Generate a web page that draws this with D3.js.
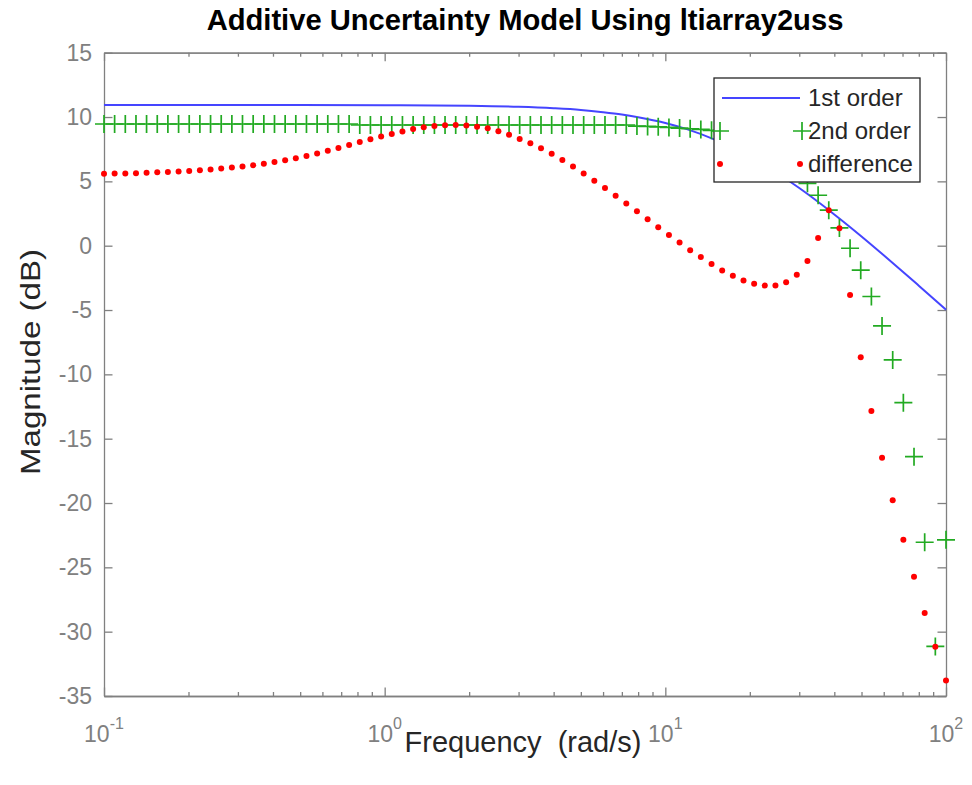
<!DOCTYPE html>
<html><head><meta charset="utf-8">
<script src="https://cdn.jsdelivr.net/npm/d3@7"></script>
<style>
body{margin:0;background:#fff}
svg text{font-family:"Liberation Sans",Arial,Helvetica,sans-serif}
</style></head>
<body><svg id="c" width="972" height="785"></svg>
<script>
// ---------- data ----------
const freq = [0.1,0.1091,0.1191,0.1300,0.1418,0.1548,0.1689,0.1844,0.2012,0.2196,
  0.2397,0.2616,0.2855,0.3115,0.3400,0.3711,0.4050,0.4420,0.4824,0.5265,
  0.5746,0.6271,0.6844,0.7470,0.8152,0.8897,0.9713,1.060,1.157,1.263,
  1.378,1.504,1.641,1.791,1.955,2.134,2.329,2.542,2.774,3.027,
  3.304,3.606,3.936,4.296,4.688,5.117,5.584,6.095,6.651,7.259,
  7.922,8.646,9.434,10.30,11.24,12.26,13.38,14.61,15.94,17.40,
  18.99,20.72,22.61,24.68,26.94,29.40,32.09,35.02,38.22,41.71,
  45.52,49.68,54.22,59.17,64.58,70.48,76.92,83.95,91.62,100];
const secondOrder = [9.46,9.46,9.46,9.46,9.46,9.46,9.46,9.46,9.46,9.46,
  9.46,9.46,9.46,9.46,9.46,9.46,9.46,9.46,9.46,9.46,
  9.46,9.46,9.46,9.46,9.38,9.38,9.38,9.38,9.38,9.38,
  9.38,9.38,9.38,9.38,9.38,9.38,9.38,9.38,9.38,9.38,
  9.38,9.38,9.38,9.38,9.38,9.38,9.38,9.38,9.38,9.38,
  9.30,9.27,9.24,9.19,9.14,9.09,9.04,8.97,8.88,8.76,
  8.60,8.38,8.08,7.65,7.00,6.00,4.85,3.92,2.76,1.38,
  -0.20,-1.90,-3.95,-6.24,-8.88,-12.20,-16.40,-23.05,-31.15,-22.86];
const difference = [5.60,5.61,5.62,5.64,5.67,5.70,5.73,5.77,5.81,5.86,
  5.92,5.99,6.07,6.16,6.26,6.37,6.50,6.64,6.80,6.97,
  7.16,7.37,7.59,7.82,8.05,8.28,8.49,8.69,8.88,9.06,
  9.20,9.30,9.36,9.38,9.34,9.25,9.12,8.90,8.62,8.30,
  7.97,7.57,7.14,6.66,6.15,5.61,5.05,4.49,3.89,3.27,
  2.68,2.05,1.43,0.83,0.24,-0.35,-0.88,-1.43,-1.93,-2.34,
  -2.71,-2.95,-3.10,-3.10,-2.84,-2.25,-1.19,0.60,2.75,1.35,
  -3.83,-8.67,-12.84,-16.49,-19.78,-22.86,-25.74,-28.54,-31.18,-33.80];
const firstFreq = [0.1,0.2,0.5,1,2,3,4,5,6,7,8,10,12,15,20,25,30,40,50,60,70,80,100];
const firstOrder = [10.94,10.94,10.94,10.92,10.87,10.79,10.68,10.55,10.38,10.20,9.99,9.54,9.04,8.25,6.92,5.65,4.48,2.43,0.72,-0.74,-2.00,-3.11,-4.98];
const yTicks = [15,10,5,0,-5,-10,-15,-20,-25,-30,-35];
const xTickExps = [-1,0,1,2];
const xMinor = [0.2,0.3,0.4,0.5,0.6,0.7,0.8,0.9,2,3,4,5,6,7,8,9,20,30,40,50,60,70,80,90];
const seriesNames = ["1st order","2nd order","difference"];
const titleText = "Additive Uncertainty Model Using ltiarray2uss";
const xLabelText = "Frequency  (rad/s)";
const yLabelText = "Magnitude (dB)";

// ---------- drawing ----------
const svg = d3.select("#c");
const L=104, R=946, T=52.7, B=696;
const x = d3.scaleLog().domain([0.1,100]).range([L,R]);
const y = d3.scaleLinear().domain([-35,15]).range([B,T]);
const axisCol = "#808080", tickTxt = "#808080", BLUE="#4545ff", GREEN="#22aa22", RED="#ff0000";

function fit(sel, target){
  const w = sel.node().getComputedTextLength();
  const fs = parseFloat(sel.attr("font-size"));
  sel.attr("font-size", (fs*target/w).toFixed(2));
  return fs*target/w;
}

function styleAxis(g){
  g.selectAll(".domain").attr("stroke",axisCol).attr("stroke-width",1.3);
  g.selectAll(".tick line").attr("stroke",axisCol).attr("stroke-width",1.3);
}
const majors = xTickExps.map(e=>Math.pow(10,e));
svg.append("g").attr("transform",`translate(0,${B})`)
  .call(d3.axisBottom(x).tickValues(majors).tickSize(-8.5).tickSizeOuter(0).tickFormat(""))
  .call(styleAxis);
svg.append("g").attr("transform",`translate(0,${B})`)
  .call(d3.axisBottom(x).tickValues(xMinor).tickSize(-4).tickSizeOuter(0).tickFormat(""))
  .call(styleAxis);
svg.append("g").attr("transform",`translate(0,${T})`)
  .call(d3.axisTop(x).tickValues(majors).tickSize(-8.5).tickSizeOuter(0).tickFormat(""))
  .call(styleAxis);
svg.append("g").attr("transform",`translate(0,${T})`)
  .call(d3.axisTop(x).tickValues(xMinor).tickSize(-4).tickSizeOuter(0).tickFormat(""))
  .call(styleAxis);
svg.append("g").attr("transform",`translate(${R},0)`)
  .call(d3.axisRight(y).tickValues(yTicks).tickSize(-8.5).tickSizeOuter(0).tickFormat(""))
  .call(styleAxis);
const yAx = svg.append("g").attr("transform",`translate(${L},0)`)
  .call(d3.axisLeft(y).tickValues(yTicks).tickSize(-8.5).tickSizeOuter(0).tickPadding(12).tickFormat(d=>d))
  .call(styleAxis);
yAx.selectAll("text").attr("fill",tickTxt).attr("font-size",23).attr("font-family","Liberation Sans, Arial, sans-serif");

// x tick labels 10^n
const xl = svg.append("g");
xTickExps.forEach(e=>{
  const t = xl.append("text").attr("x",x(Math.pow(10,e))).attr("y",742)
    .attr("text-anchor","middle").attr("fill",tickTxt).attr("font-size",23);
  t.append("tspan").text("10");
  t.append("tspan").attr("dy",-13).attr("font-size",16).text(String(e));
});

// data
svg.append("path").datum(firstFreq.map((f,i)=>[f,firstOrder[i]]))
  .attr("fill","none").attr("stroke",BLUE).attr("stroke-width",2)
  .attr("d", d3.line().x(d=>x(d[0])).y(d=>y(d[1])).curve(d3.curveMonotoneX));
const plus = "M-9,0H9M0,-9V9";
svg.append("g").selectAll("path").data(freq.map((f,i)=>[f,secondOrder[i]])).join("path")
  .attr("d",plus).attr("transform",d=>`translate(${x(d[0])},${y(d[1])})`)
  .attr("stroke",GREEN).attr("stroke-width",1.7).attr("fill","none");
svg.append("g").selectAll("circle").data(freq.map((f,i)=>[f,difference[i]])).join("circle")
  .attr("cx",d=>x(d[0])).attr("cy",d=>y(d[1])).attr("r",3).attr("fill",RED);

// legend
const lg = svg.append("g");
lg.append("rect").attr("x",714).attr("y",78).attr("width",206).attr("height",104)
  .attr("fill","#fff").attr("stroke","#262626").attr("stroke-width",1.3);
const rowsY = [98,131,164];
lg.append("line").attr("x1",722).attr("x2",800).attr("y1",rowsY[0]).attr("y2",rowsY[0])
  .attr("stroke",BLUE).attr("stroke-width",2);
[720,802].forEach(px=>lg.append("path").attr("d",plus).attr("transform",`translate(${px},${rowsY[1]})`)
  .attr("stroke",GREEN).attr("stroke-width",1.7));
[720,800].forEach(px=>lg.append("circle").attr("cx",px).attr("cy",rowsY[2]).attr("r",3).attr("fill",RED));
const lt = seriesNames.map((s,i)=>lg.append("text").attr("x",808).attr("y",rowsY[i]).attr("dy","0.35em")
  .attr("fill","#262626").attr("font-size",20).text(s));
const lfs = fit(lt[2],105);
lt.forEach(t=>t.attr("font-size",lfs.toFixed(2)));

// title & labels
const title = svg.append("text").attr("x",525).attr("y",30).attr("text-anchor","middle")
  .attr("font-weight","bold").attr("font-size",20).attr("fill","#000").text(titleText);
fit(title,637);
const xlab = svg.append("text").attr("x",523).attr("y",752).attr("text-anchor","middle")
  .attr("font-size",24).attr("fill","#262626").style("white-space","pre").text(xLabelText);
const xfs = fit(xlab,237);
svg.append("text").attr("transform","translate(40,362) rotate(-90)").attr("text-anchor","middle")
  .attr("font-size",(xfs*0.98).toFixed(2)).attr("fill","#262626")
  .attr("textLength",226).attr("lengthAdjust","spacingAndGlyphs").text(yLabelText);
</script>
</body></html>
